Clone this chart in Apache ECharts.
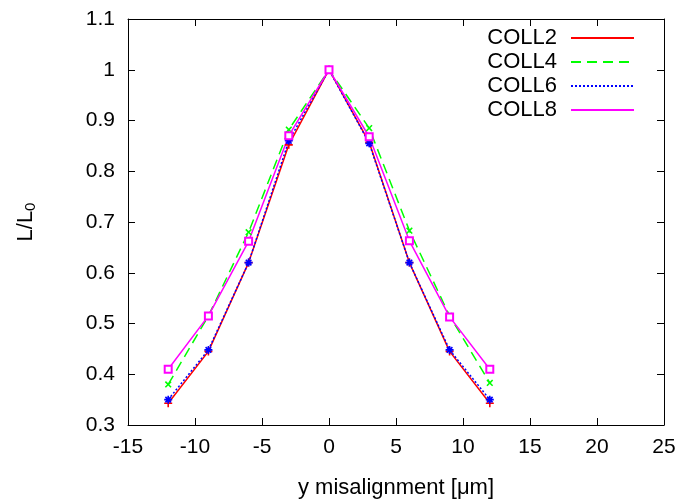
<!DOCTYPE html>
<html><head><meta charset="utf-8">
<script src="https://cdn.jsdelivr.net/npm/echarts@6/dist/echarts.min.js"></script>
<style>html,body{margin:0;padding:0;background:#fff}#c{width:698px;height:504px}</style>
</head><body><div id="c"></div>
<script>
var xVals = [-12, -9, -6, -3, 0, 3, 6, 9, 12];
var coll2 = [0.343, 0.445, 0.620, 0.852, 1.000, 0.857, 0.620, 0.445, 0.343];
var coll4 = [0.380, 0.515, 0.680, 0.882, 1.000, 0.885, 0.683, 0.515, 0.383];
var coll6 = [0.350, 0.448, 0.620, 0.860, 1.000, 0.855, 0.620, 0.448, 0.350];
var coll8 = [0.410, 0.515, 0.662, 0.870, 1.000, 0.868, 0.663, 0.513, 0.410];
var seriesNames = ['COLL2', 'COLL4', 'COLL6', 'COLL8'];

var FONT = 'Liberation Sans';
var PLUS = 'path://M-1,-5h2v4h4v2h-4v4h-2v-4h-4v-2h4z';
var STAR = 'path://M-5,-1h10v2h-10zM-1,-5h2v10h-2zM-4.2,-2.8L-2.8,-4.2L4.2,2.8L2.8,4.2ZM2.8,-4.2L4.2,-2.8L-2.8,4.2L-4.2,2.8Z';
function pairs(v){ return xVals.map(function(x,i){return [x,v[i]];}); }

var chart = echarts.init(document.getElementById('c'), null, {renderer:'canvas'});
function axisLine(){ return {show:true, onZero:false, lineStyle:{color:'#000', width:1}}; }
var tick = {show:true, inside:true, length:7, lineStyle:{color:'#000', width:1}};
chart.setOption({
  animation:false,
  backgroundColor:'#fff',
  grid:{left:128, right:34, top:19, bottom:76},
  legend:{
    orient:'vertical', align:'right', right:58, top:22,
    itemWidth:63, itemHeight:14, itemGap:2,
    data:seriesNames,
    itemStyle:{opacity:0},
    textStyle:{fontFamily:FONT, fontSize:22, color:'#000', lineHeight:22, padding:[0,9,0,0]}
  },
  xAxis:[{
    type:'value', min:-15, max:25, interval:5, position:'bottom',
    name:'y misalignment [\u03bcm]', nameLocation:'middle', nameGap:52,
    nameTextStyle:{fontFamily:FONT, fontSize:22, color:'#000'},
    axisLine:axisLine(), axisTick:tick, splitLine:{show:false},
    axisLabel:{fontFamily:FONT, fontSize:21, color:'#000', margin:12}
  },{
    type:'value', min:-15, max:25, interval:5, position:'top',
    axisLine:axisLine(), axisTick:tick, splitLine:{show:false}, axisLabel:{show:false}
  }],
  yAxis:[{
    type:'value', min:0.3, max:1.1, interval:0.1, position:'left',
    name:'L/L{s|0}', nameLocation:'middle', nameGap:90, nameRotate:90,
    nameTextStyle:{fontFamily:FONT, fontSize:22, color:'#000',
      rich:{s:{fontFamily:FONT, fontSize:15, color:'#000', verticalAlign:'bottom', padding:[10,0,0,0]}}},
    axisLine:axisLine(), axisTick:tick, splitLine:{show:false},
    axisLabel:{fontFamily:FONT, fontSize:21, color:'#000', margin:13,
      formatter:function(v){return String(Math.round(v*10)/10);}}
  },{
    type:'value', min:0.3, max:1.1, interval:0.1, position:'right',
    axisLine:axisLine(), axisTick:tick, splitLine:{show:false}, axisLabel:{show:false}
  }],
  series:[
    {name:'COLL2', type:'line', data:pairs(coll2), symbol:PLUS, symbolSize:8,
     lineStyle:{color:'#ff0000', width:1.5}, itemStyle:{color:'#ff0000'}},
    {name:'COLL4', type:'line', data:pairs(coll4), symbol:PLUS, symbolSize:8, symbolRotate:45,
     lineStyle:{color:'#00ff00', width:1.5, type:[10,6]}, itemStyle:{color:'#00ff00'}},
    {name:'COLL6', type:'line', data:pairs(coll6), symbol:STAR, symbolSize:8,
     lineStyle:{color:'#0000ff', width:1.5, type:[2,2]}, itemStyle:{color:'#0000ff'}},
    {name:'COLL8', type:'line', data:pairs(coll8), symbol:'emptyRect', symbolSize:7,
     lineStyle:{color:'#ff00ff', width:1.5}, itemStyle:{color:'#ff00ff', borderWidth:2}}
  ]
});
</script></body></html>
